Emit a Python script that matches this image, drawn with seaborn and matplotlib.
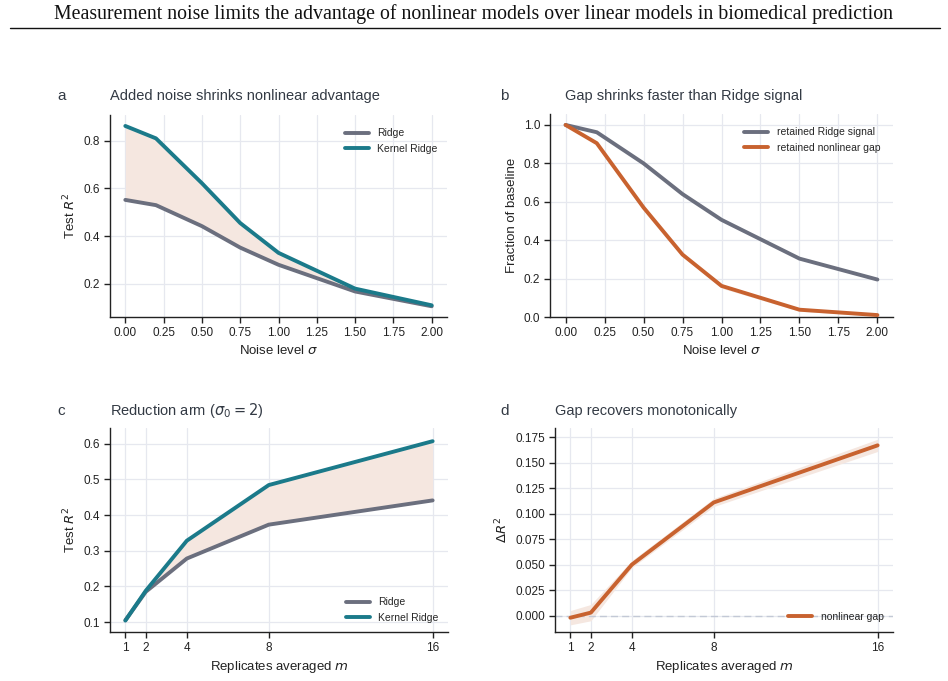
import numpy as np
import pandas as pd
import matplotlib
matplotlib.use("Agg")
import matplotlib.pyplot as plt
import seaborn as sns

# ---------------- data ----------------
sigma = [0.0, 0.2, 0.5, 0.75, 1.0, 1.5, 2.0]
ridge_a = [0.552, 0.530, 0.442, 0.352, 0.280, 0.168, 0.106]
kernel_a = [0.862, 0.810, 0.622, 0.455, 0.330, 0.180, 0.110]

retained_ridge = [1.0, 0.962, 0.800, 0.640, 0.506, 0.304, 0.195]
retained_gap = [1.0, 0.905, 0.570, 0.325, 0.162, 0.038, 0.010]
retained_gap_lo = [0.995, 0.897, 0.560, 0.315, 0.150, 0.030, 0.005]
retained_gap_hi = [1.005, 0.913, 0.580, 0.335, 0.172, 0.046, 0.015]

reps = [1, 2, 4, 8, 16]
ridge_c = [0.105, 0.185, 0.278, 0.373, 0.441]
kernel_c = [0.104, 0.188, 0.328, 0.484, 0.607]

gap_d = [-0.002, 0.003, 0.050, 0.111, 0.167]
gap_d_lo = [-0.009, -0.005, 0.047, 0.107, 0.161]
gap_d_hi = [0.005, 0.011, 0.054, 0.115, 0.173]

# ---------------- style ----------------
sns.set_theme(style="whitegrid")
plt.rcParams["font.family"] = ["Liberation Sans", "DejaVu Sans"]
plt.rcParams["mathtext.fontset"] = "dejavusans"
plt.rcParams.update({
    "axes.edgecolor": "#222222",
    "axes.linewidth": 1.0,
    "grid.color": "#e6e8ef",
    "grid.linewidth": 0.9,
    "xtick.bottom": True,
    "ytick.left": True,
    "xtick.major.size": 4,
    "ytick.major.size": 4,
    "xtick.color": "#222222",
    "ytick.color": "#222222",
    "xtick.labelsize": 8.5,
    "ytick.labelsize": 8.5,
    "axes.labelsize": 9.5,
    "axes.labelcolor": "#222222",
})

C_RIDGE = "#6b6f7e"
C_KERNEL = "#1b7a8a"
C_GAP = "#c8622f"
C_FILL = "#f5e7e0"
TXT = "#333a44"

W, H = 948, 681
fig = plt.figure(figsize=(W / 100, H / 100), dpi=100)


def add_ax(l, r, t, b):
    return fig.add_axes([l / W, 1 - b / H, (r - l) / W, (b - t) / H])


ax_a = add_ax(110, 447, 115, 317)
ax_b = add_ax(550, 893, 114, 317)
ax_c = add_ax(110, 448, 428, 632)
ax_d = add_ax(555, 893, 428, 632)

LW = 2.8

# panel a
ax_a.fill_between(sigma, ridge_a, kernel_a, color=C_FILL, lw=0, zorder=1)
dfa = pd.DataFrame({"x": sigma * 2, "y": ridge_a + kernel_a,
                    "model": ["Ridge"] * len(sigma) + ["Kernel Ridge"] * len(sigma)})
sns.lineplot(data=dfa, x="x", y="y", hue="model", palette=[C_RIDGE, C_KERNEL],
             lw=LW, ax=ax_a, zorder=3)
ax_a.set_xlim(-0.1, 2.1)
ax_a.set_ylim(0.061, 0.908)
ax_a.set_yticks([0.2, 0.4, 0.6, 0.8])
ax_a.set_xticks(np.arange(0, 2.01, 0.25))
ax_a.set_xlabel(r"Noise level $\sigma$")
ax_a.set_ylabel(r"Test $R^2$")
ax_a.legend(loc="upper right", frameon=False, fontsize=7.5, handlelength=2.3,
            bbox_to_anchor=(1.0, 0.98))

# panel b
ax_b.fill_between(sigma, retained_gap_lo, retained_gap_hi, color=C_FILL, lw=0, zorder=1)
dfb = pd.DataFrame({"x": sigma * 2, "y": retained_ridge + retained_gap,
                    "s": ["retained Ridge signal"] * len(sigma) + ["retained nonlinear gap"] * len(sigma)})
sns.lineplot(data=dfb, x="x", y="y", hue="s", palette=[C_RIDGE, C_GAP],
             lw=LW, ax=ax_b, zorder=3)
ax_b.set_xlim(-0.1, 2.1)
ax_b.set_ylim(0, 1.057)
ax_b.set_yticks([0.0, 0.2, 0.4, 0.6, 0.8, 1.0])
ax_b.set_xticks(np.arange(0, 2.01, 0.25))
ax_b.set_xlabel(r"Noise level $\sigma$")
ax_b.set_ylabel("Fraction of baseline")
ax_b.legend(loc="upper right", frameon=False, fontsize=7.5, handlelength=2.3,
            bbox_to_anchor=(0.99, 0.98))

# panel c
ax_c.fill_between(reps, ridge_c, kernel_c, color=C_FILL, lw=0, zorder=1)
dfc = pd.DataFrame({"x": reps * 2, "y": ridge_c + kernel_c,
                    "model": ["Ridge"] * len(reps) + ["Kernel Ridge"] * len(reps)})
sns.lineplot(data=dfc, x="x", y="y", hue="model", palette=[C_RIDGE, C_KERNEL],
             lw=LW, ax=ax_c, zorder=3)
ax_c.set_xlim(0.25, 16.75)
ax_c.set_ylim(0.072, 0.644)
ax_c.set_xticks(reps)
ax_c.set_yticks([0.1, 0.2, 0.3, 0.4, 0.5, 0.6])
ax_c.set_xlabel(r"Replicates averaged $m$")
ax_c.set_ylabel(r"Test $R^2$")
ax_c.legend(loc="lower right", frameon=False, fontsize=7.5, handlelength=2.3,
            bbox_to_anchor=(1.0, 0.0))

# panel d
ax_d.axhline(0, color="#c3c9d6", lw=1.0, ls=(0, (5, 3)), zorder=2)
ax_d.fill_between(reps, gap_d_lo, gap_d_hi, color=C_FILL, lw=0, zorder=1)
dfd = pd.DataFrame({"x": reps, "y": gap_d, "s": ["nonlinear gap"] * len(reps)})
sns.lineplot(data=dfd, x="x", y="y", hue="s", palette=[C_GAP], lw=LW, ax=ax_d, zorder=3)
ax_d.set_xlim(0.25, 16.75)
ax_d.set_ylim(-0.016, 0.184)
ax_d.set_xticks(reps)
ax_d.set_yticks(np.arange(0, 0.176, 0.025))
ax_d.yaxis.set_major_formatter(matplotlib.ticker.FormatStrFormatter("%.3f"))
ax_d.set_xlabel(r"Replicates averaged $m$")
ax_d.set_ylabel(r"$\Delta R^2$")
ax_d.legend(loc="lower right", frameon=False, fontsize=7.5, handlelength=2.3,
            bbox_to_anchor=(1.0, 0.005))

for ax in (ax_a, ax_b, ax_c, ax_d):
    sns.despine(ax=ax)
    ax.tick_params(axis="both", which="major", length=4, width=1.0, pad=3)
    ax.grid(True, zorder=0)

# titles and panel letters
def ftext(x, y, s, **kw):
    fig.text(x / W, 1 - y / H, s, va="center", **kw)

ftext(57, 96, "a", fontsize=11, color=TXT)
ftext(110, 96, "Added noise shrinks nonlinear advantage", fontsize=10.5, color=TXT)
ftext(500, 96, "b", fontsize=11, color=TXT)
ftext(565, 96, "Gap shrinks faster than Ridge signal", fontsize=10.5, color=TXT)
ftext(57, 411, "c", fontsize=11, color=TXT)
ftext(110, 411, r"Reduction arm ($\sigma_0 = 2$)", fontsize=10.5, color=TXT)
ftext(500, 411, "d", fontsize=11, color=TXT)
ftext(555, 411, "Gap recovers monotonically", fontsize=10.5, color=TXT)

fig.text(0.5, 1 - 14 / H, "Measurement noise limits the advantage of nonlinear models over linear models in biomedical prediction",
         ha="center", va="center", fontsize=14.3, family=["Liberation Serif", "DejaVu Serif"], color="#111111")
fig.add_artist(matplotlib.lines.Line2D([10 / W, 940 / W], [1 - 28 / H, 1 - 28 / H],
                                       color="#111111", lw=1.0))

fig.savefig("out.png", dpi=100)
